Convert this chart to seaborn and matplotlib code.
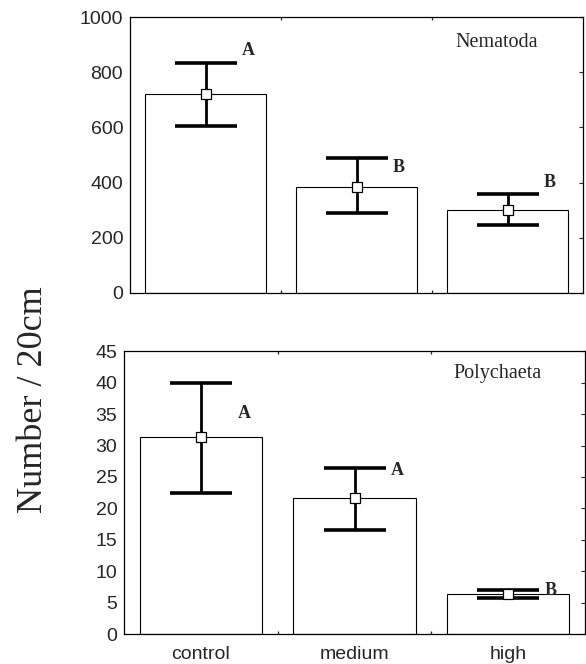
import numpy as np
import matplotlib
matplotlib.use("Agg")
import matplotlib.pyplot as plt
import seaborn as sns

sns.set_style("ticks")
plt.rcParams['font.family'] = ['Liberation Sans', 'DejaVu Sans']

# data
treatments = ["control", "medium", "high"]

nema_mean = [720, 385, 302]
nema_upper = [835, 488, 360]
nema_lower = [605, 290, 246]
nema_letters = ["A", "B", "B"]
nema_letter_y = [880, 456, 402]

poly_mean = [31.3, 21.6, 6.4]
poly_upper = [40.0, 26.5, 7.0]
poly_lower = [22.5, 16.5, 5.7]
poly_letters = ["A", "A", "B"]
poly_letter_y = [35.1, 26.1, 7.0]

SERIF = ["Liberation Serif", "DejaVu Serif"]

fig = plt.figure(figsize=(5.86, 6.64), dpi=100)
ax_top = fig.add_axes([0.222, 0.559, 0.773, 0.415])
ax_bot = fig.add_axes([0.212, 0.045, 0.786, 0.426])


def draw_panel(ax, means, upper, lower, letters, letter_y, title, ylim, yticks, title_y):
    sns.barplot(x=treatments, y=means, color="white", edgecolor="black",
                linewidth=0.8, width=0.8, errorbar=None, ax=ax)
    for p in ax.patches:
        p.set_facecolor("white")
    xs = np.arange(len(treatments))
    m = np.array(means)
    yerr = [m - np.array(lower), np.array(upper) - m]
    ax.errorbar(xs, m, yerr=yerr, fmt="none", ecolor="black",
                elinewidth=2.0, capsize=22, capthick=2.6, zorder=5)
    ax.plot(xs, m, "s", markersize=7, markerfacecolor="white",
            markeredgecolor="black", markeredgewidth=0.9, zorder=6)
    for i, (lab, ly) in enumerate(zip(letters, letter_y)):
        ax.text(i + 0.28, ly, lab, ha="center", va="center", fontsize=13,
                fontweight="bold", family=SERIF)
    ax.text(1.93, title_y, title, ha="center", va="center", fontsize=14.5,
            family=SERIF)
    ax.set_xlim(-0.5, 2.5)
    ax.set_ylim(*ylim)
    ax.set_yticks(yticks)
    ax.set_xticks([0.5, 1.5], minor=True)
    ax.set_xlabel("")
    ax.set_ylabel("")
    for s in ax.spines.values():
        s.set_visible(True)
        s.set_linewidth(0.9)
        s.set_color("black")
    ax.tick_params(axis="y", left=False, right=True, direction="in", length=3,
                   labelsize=14, pad=5)
    ax.tick_params(axis="x", which="major", bottom=False, labelsize=14, pad=5)
    ax.tick_params(axis="x", which="minor", bottom=True, top=True,
                   direction="in", length=2, width=0.9)


draw_panel(ax_top, nema_mean, nema_upper, nema_lower, nema_letters, nema_letter_y,
           "Nematoda", (0, 1000), np.arange(0, 1001, 200), 910)
ax_top.set_xticklabels([])

draw_panel(ax_bot, poly_mean, poly_upper, poly_lower, poly_letters, poly_letter_y,
           "Polychaeta", (0, 45), np.arange(0, 46, 5), 41.5)

fig.text(0.058, 0.398, "Number / 20cm", rotation=90, ha="center", va="center",
         fontsize=26, family=SERIF)

fig.savefig("out.png", dpi=100)
